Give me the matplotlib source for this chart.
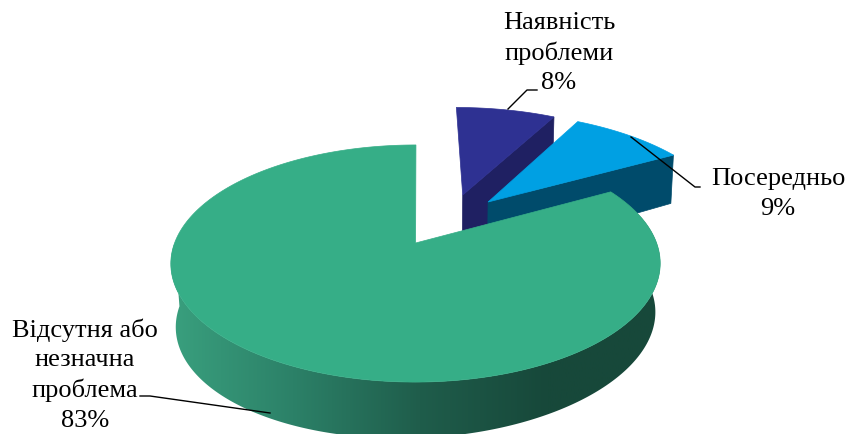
#!/usr/bin/env python

import numpy as np
import matplotlib
matplotlib.use("Agg")
import matplotlib.pyplot as plt
from matplotlib.colors import LinearSegmentedColormap
from matplotlib.patches import Polygon

labels = ["Наявність\nпроблеми\n8%", "Посередньо\n9%", "Відсутня або\nнезначна\nпроблема\n83%"]
values = [8, 9, 83]

top_colors = ["#2E3192", "#00A0E3", "#36AE87"]
side_colors = ["#1F2062", "#004B6B"]

# screen position of the pie and the tilt of the view, in pixels
cx, cy = 418, 243
rx, ry = 241, 115
persp = 0.173
height = 56
lean = 0.03

# how far each slice is pulled out of the pie, in radius units
offsets = [(0.2, 0.45), (0.31, 0.38), (-0.01, 0.0)]
radii = [1.03, 1.04, 1.0]
shrink = [0.99, 0.99, 0.98]


def project(u, v, low=None):
    u = np.asarray(u, dtype=float)
    v = np.asarray(v, dtype=float)
    d = 1 + persp * v
    x = rx * u / d
    y = -ry * v / d
    if low is not None:
        return cx + x * low, cy + y + height - lean * x
    return cx + x, cy + y


def arc(a0, a1, off, r):
    t = np.radians(np.linspace(a0, a1, 300))
    return r * np.cos(t) + off[0], r * np.sin(t) + off[1]


def poly(xs, ys, color, z):
    p = Polygon(np.column_stack([xs, ys]), closed=True, fc=color, ec=color, lw=0.5, zorder=z)
    ax.add_patch(p)
    return p


fig = plt.figure(figsize=(8.49, 4.34), dpi=100)
ax = fig.add_axes([0, 0, 1, 1])

# slice angles, clockwise from twelve o'clock
ends = 90 - np.cumsum(values) * 3.6
starts = np.r_[90, ends[:-1]]

for i in range(3):
    off = offsets[i]
    u, v = arc(starts[i], ends[i], off, radii[i])
    xt, yt = project(np.r_[off[0], u], np.r_[off[1], v])
    z = 2 * i + 2
    if i < 2:
        # cut face on the clockwise edge of the slice
        ue, ve = np.array([off[0], u[-1]]), np.array([off[1], v[-1]])
        x0, y0 = project(ue, ve)
        x1, y1 = project(ue, ve, low=shrink[i])
        poly(np.r_[x0, x1[::-1]], np.r_[y0, y1[::-1]], side_colors[i], z - 1)
    poly(xt, yt, top_colors[i], z)

# green wall, shaded from left to right and clipped to the wall outline
u, v = arc(-180, ends[1], offsets[2], radii[2])
x0, y0 = project(u, v)
x1, y1 = project(u, v, low=shrink[2])
outline = Polygon(np.column_stack([np.r_[x0, x1[::-1]], np.r_[y0, y1[::-1]]]), closed=True, fc="none", ec="none")
ax.add_patch(outline)
shade = LinearSegmentedColormap.from_list("wall", ["#3AA17F", "#2C8168", "#1F5D4B", "#17483A", "#17483A"])
im = ax.imshow(np.linspace(0, 1, 256)[None, :], cmap=shade, extent=[165, 675, 0, 434], aspect="auto", zorder=5)
im.set_clip_path(outline)

ax.set_xlim(0, 849)
ax.set_ylim(434, 0)
ax.axis("off")

# leader lines
ax.plot([508, 527, 537], [109, 90, 90], color="black", lw=1, zorder=10)
ax.plot([631, 695, 700], [137, 187, 187], color="black", lw=1, zorder=10)
ax.plot([270, 150, 140], [413, 396, 396], color="black", lw=1, zorder=10)

# data labels
font = dict(family="Liberation Serif", fontsize=19, ha="center", va="center", linespacing=1.43, zorder=11)
ax.text(559, 53, labels[0], **font)
ax.text(778, 194, labels[1], **font)
ax.text(85, 375, labels[2], **font)

fig.savefig("out.png", dpi=100)
plt.close()
